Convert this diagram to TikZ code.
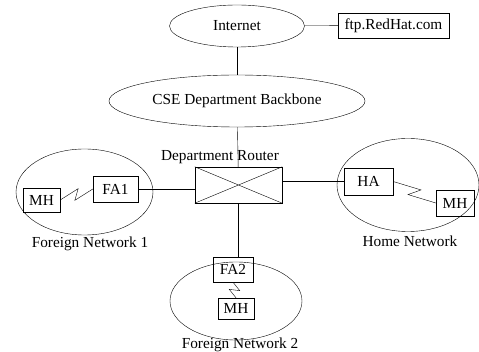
\documentclass[tikz,border=0pt]{standalone}
\usepackage{fontspec}
\setmainfont{Liberation Serif}
\usetikzlibrary{shapes.geometric,calc}
\begin{document}
\begin{tikzpicture}[x=1pt,y=-1pt,
	every node/.style={font=\fontsize{15.3}{18}\selectfont},
	net/.style={draw,ellipse,inner sep=0pt},
	box/.style={draw,rectangle,inner sep=0pt},
	zz/.style={to path={-- ($(\tikztostart)!.6!(\tikztotarget)!5pt!90:(\tikztotarget)$) -- ($(\tikztostart)!.4!(\tikztotarget)!5pt!-90:(\tikztotarget)$) -- (\tikztotarget)}}]
\useasboundingbox (0,0) rectangle (479,352);
% backbone
\node[net,minimum width=135,minimum height=42] (inet) at (237,26) {Internet};
\node[box,minimum width=111,minimum height=25] (ftp) at (393.5,25.5) {ftp.RedHat.com};
\node[net,minimum width=256,minimum height=52] (bb) at (237,101) {CSE Department Backbone};
\node[box,minimum width=87,minimum height=36] (rtr) at (238.5,185) {};
\node (rtrlbl) at (220,157) {Department Router};
\draw (rtr.north west) -- (rtr.south east) (rtr.south west) -- (rtr.north east);
% networks
\node[net,minimum width=137,minimum height=86] (fn1) at (84.5,192) {};
\node[net,minimum width=142,minimum height=93] (hn) at (408,185) {};
\node[net,minimum width=132,minimum height=78] (fn2) at (236,301) {};
\node (fn1lbl) at (90,244) {Foreign Network 1};
\node (hnlbl) at (410,241) {Home Network};
\node (fn2lbl) at (240,345) {Foreign Network 2};
% agents and hosts
\node[box,minimum width=45,minimum height=26] (fa1) at (115.5,189) {FA1};
\node[box,minimum width=37,minimum height=24] (mh1) at (41.5,200) {MH};
\node[box,minimum width=49,minimum height=27] (ha) at (368.5,181.5) {HA};
\node[box,minimum width=38,minimum height=26] (mh3) at (455,203) {MH};
\node[box,minimum width=40,minimum height=25] (fa2) at (233,269.5) {FA2};
\node[box,minimum width=36,minimum height=21] (mh2) at (236,308.5) {MH};
% links
\draw (inet) -- (ftp);
\draw (inet) -- (bb);
\draw (bb) -- (rtr);
\draw (fa1.east) -- (fa1.east -| rtr.west);
\draw (ha.west) -- (ha.west -| rtr.east);
\draw (rtr.south) -- (rtr.south |- fa2.north);
\draw (mh1.east) to[zz] (fa1.west);
\draw (ha.east) to[zz] (mh3.west);
\draw (fa2.south) to[zz] (mh2.north);
\end{tikzpicture}
\end{document}
